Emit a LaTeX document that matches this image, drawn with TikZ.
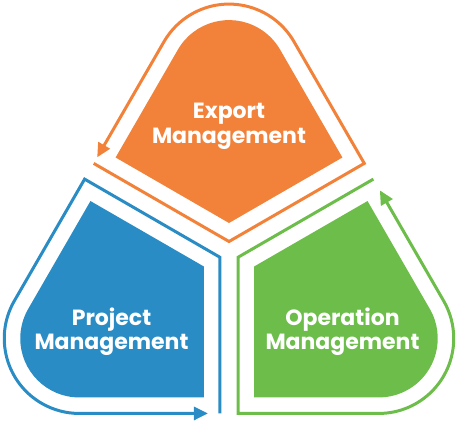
\documentclass[tikz,border=0pt]{standalone}
\usepackage{fontspec}
\setmainfont{Poppins}
\usetikzlibrary{arrows.meta}
\definecolor{cOrange}{HTML}{F2823A}
\definecolor{cBlue}{HTML}{2A8CC4}
\definecolor{cGreen}{HTML}{6CBD4A}
\tikzset{
  outl/.style={line width=3pt, line join=miter, -{Triangle[length=14pt,width=13pt]}},
  lbl/.style={text=white, anchor=base, inner sep=0pt, font=\fontsize{22}{25}\selectfont\bfseries}
}
\newcommand\kiteshape[3]{%
  \begin{scope}[shift={(229,169)}, rotate=#1]
    \fill[#2] (0,29) -- (-113.4,94.5) -- (-51.1,202.4)
      arc[start angle=150,end angle=30,radius=59] -- (113.4,94.5) -- cycle;
    \draw[#2, outl] (-135.3,88.6) -- (0,10.5) -- (135.3,88.6) -- (64.95,210.4)
      arc[start angle=30,end angle=150,radius=75]
      -- ({-135.3+0.5*#3},{88.6+0.866*#3});
  \end{scope}}
\begin{document}
\begin{tikzpicture}[x=1pt,y=1pt]
  \useasboundingbox (0,0) rectangle (459,421);
  \kiteshape{0}{cOrange}{7}
  \kiteshape{120}{cBlue}{12}
  \kiteshape{-120}{cGreen}{13}
  \node[lbl] (e1) at (229,302.7) {Export};
  \node[lbl] (e2) at (229,277.7) {Management};
  \node[lbl] (p1) at (111.5,95.3) {Project};
  \node[lbl] (p2) at (111.5,71) {Management};
  \node[lbl] (o1) at (342.5,95.3) {Operation};
  \node[lbl] (o2) at (342.5,71) {Management};
\end{tikzpicture}
\end{document}
